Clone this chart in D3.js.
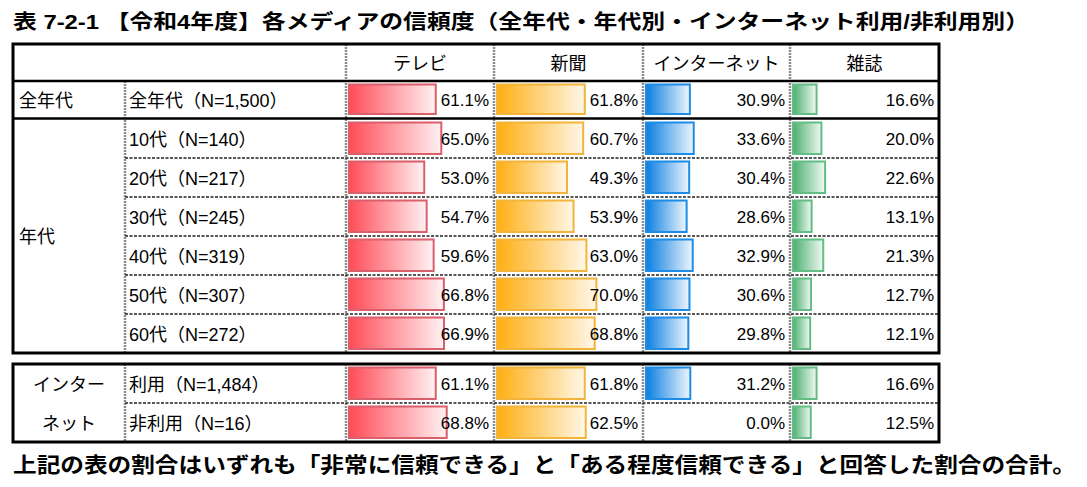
<!DOCTYPE html>
<html><head><meta charset="utf-8">
<script src="https://cdn.jsdelivr.net/npm/d3@7"></script>
<style>
html,body{margin:0;padding:0;background:#fff;}
text{font-family:"Liberation Sans","Noto Sans CJK JP",sans-serif;}
</style></head>
<body>
<svg id="chart" width="1087" height="487"></svg>
<script>
const title = "表 7-2-1 【令和4年度】各メディアの信頼度（全年代・年代別・インターネット利用/非利用別）";
const note = "上記の表の割合はいずれも「非常に信頼できる」と「ある程度信頼できる」と回答した割合の合計。";
const media = ["テレビ", "新聞", "インターネット", "雑誌"];
const groups = ["全年代", "年代", "インター\nネット"];
const rowGroup = [0, 1, 1, 1, 1, 1, 1, 2, 2];
const rowLabels = ["全年代（N=1,500）", "10代（N=140）", "20代（N=217）", "30代（N=245）", "40代（N=319）",
  "50代（N=307）", "60代（N=272）", "利用（N=1,484）", "非利用（N=16）"];
const tvValues = [61.1, 65.0, 53.0, 54.7, 59.6, 66.8, 66.9, 61.1, 68.8];
const newspaperValues = [61.8, 60.7, 49.3, 53.9, 63.0, 70.0, 68.8, 61.8, 62.5];
const internetValues = [30.9, 33.6, 30.4, 28.6, 32.9, 30.6, 29.8, 31.2, 0.0];
const magazineValues = [16.6, 20.0, 22.6, 13.1, 21.3, 12.7, 12.1, 16.6, 12.5];

const series = [tvValues, newspaperValues, internetValues, magazineValues];
const colors = [
  {fill: "#ff4b57", end: "#fff2f3", stroke: "#d95f6b"},
  {fill: "#ffae12", end: "#fff7e8", stroke: "#f2b43a"},
  {fill: "#0a7ee0", end: "#eef6fe", stroke: "#1c8ce6"},
  {fill: "#4aaf6e", end: "#f0f9f3", stroke: "#62bd84"}
];

const svg = d3.select("#chart");
const W = 1087, H = 487;
svg.append("rect").attr("width", W).attr("height", H).attr("fill", "#fff");

// layout
const colEdges = [13, 125, 346, 494, 643, 790, 939];
const headerTop = 44, headerBottom = 81;
const tables = [
  {groups: [0, 1], top: 44, bottom: 353},
  {groups: [2], top: 364, bottom: 442}
];
const groupRange = {0: [81, 118], 1: [119, 353], 2: [364, 442]};

const yScales = {};
[0, 1, 2].forEach(g => {
  const rows = d3.range(rowLabels.length).filter(i => rowGroup[i] === g);
  yScales[g] = d3.scaleBand().domain(rows).range(groupRange[g]).paddingInner(0).paddingOuter(0);
});
const rowY = i => yScales[rowGroup[i]](i);
const rowH = i => yScales[rowGroup[i]].bandwidth();

const x = d3.scaleLinear().domain([0, 100]).range([0, 142]);

const defs = svg.append("defs");
colors.forEach((c, k) => {
  const g = defs.append("linearGradient").attr("id", "grad" + k).attr("x1", "0").attr("x2", "1").attr("y1", "0").attr("y2", "0");
  g.append("stop").attr("offset", "0").attr("stop-color", c.fill);
  g.append("stop").attr("offset", "1").attr("stop-color", c.end);
});

// title
svg.append("text").attr("x", 13).attr("y", 29).attr("font-size", 20).attr("font-weight", "bold")
  .attr("textLength", 1016).attr("lengthAdjust", "spacingAndGlyphs")
  .attr("fill", "#000").text(title);

// header
media.forEach((m, k) => {
  svg.append("text").attr("x", (colEdges[k + 2] + colEdges[k + 3]) / 2).attr("y", (headerTop + headerBottom) / 2 + 7)
    .attr("text-anchor", "middle").attr("font-size", 18).attr("fill", "#000").text(m);
});

// bars and values
series.forEach((vals, k) => {
  const x0 = colEdges[k + 2];
  const x1 = colEdges[k + 3];
  const gg = svg.append("g");
  gg.selectAll("rect").data(vals.map((v, i) => ({v, i})).filter(d => d.v > 0)).join("rect")
    .attr("x", x0 + 3)
    .attr("y", d => rowY(d.i) + 3.5)
    .attr("width", d => x(d.v))
    .attr("height", d => rowH(d.i) - 7.5)
    .attr("fill", "url(#grad" + k + ")")
    .attr("stroke", colors[k].stroke)
    .attr("stroke-width", 2);
  gg.selectAll("text").data(vals.map((v, i) => ({v, i}))).join("text")
    .attr("x", x1 - 5)
    .attr("y", d => rowY(d.i) + rowH(d.i) / 2 + 6)
    .attr("text-anchor", "end").attr("font-size", 17).attr("fill", "#000")
    .text(d => d.v.toFixed(1) + "%");
});

// row labels
rowLabels.forEach((l, i) => {
  svg.append("text").attr("x", 129).attr("y", rowY(i) + rowH(i) / 2 + 7)
    .attr("font-size", 18).attr("fill", "#000").text(l);
});

// group labels
svg.append("text").attr("x", 19).attr("y", (81 + 118) / 2 + 7).attr("font-size", 18).text("全年代");
svg.append("text").attr("x", 19).attr("y", (119 + 353) / 2 + 7).attr("font-size", 18).text("年代");
const gl = groups[2].split("\n");
gl.forEach((t, j) => {
  svg.append("text").attr("x", 69).attr("y", 364 + 39 * j + 19.5 + 7).attr("text-anchor", "middle")
    .attr("font-size", 18).text(t);
});

// grid lines
const vline = (xx, y0, y1) => svg.append("line").attr("x1", xx).attr("x2", xx).attr("y1", y0).attr("y2", y1)
  .attr("stroke", "#8a8a8a").attr("stroke-width", 2.5).attr("stroke-dasharray", "2,1");
const hdash = (yy) => svg.append("line").attr("x1", 125).attr("x2", 939).attr("y1", yy).attr("y2", yy)
  .attr("stroke", "#222").attr("stroke-width", 1.6).attr("stroke-dasharray", "3,1.5");
const hsolid = (yy) => svg.append("line").attr("x1", 13).attr("x2", 939).attr("y1", yy).attr("y2", yy)
  .attr("stroke", "#000").attr("stroke-width", 2.5);

[2, 3, 4, 5].forEach(c => vline(colEdges[c], 44, 353));
vline(125, 81, 353);
[1, 2, 3, 4, 5].forEach(i => hdash(yScales[1](i + 1)));
hsolid(81);
hsolid(118.5);
[2, 3, 4, 5].forEach(c => vline(colEdges[c], 364, 442));
vline(125, 364, 442);
hdash(yScales[2](8));

tables.forEach(t => {
  svg.append("rect").attr("x", 13).attr("y", t.top).attr("width", 939 - 13).attr("height", t.bottom - t.top)
    .attr("fill", "none").attr("stroke", "#000").attr("stroke-width", 3);
});

// note
svg.append("text").attr("x", 13).attr("y", 472).attr("font-size", 21).attr("font-weight", "bold")
  .attr("textLength", 1063).attr("lengthAdjust", "spacingAndGlyphs")
  .attr("fill", "#000").text(note);
</script>
</body></html>
